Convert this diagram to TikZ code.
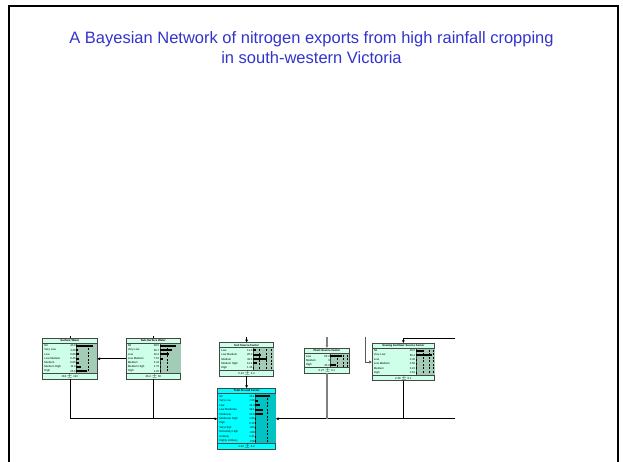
\documentclass[tikz,border=0pt]{standalone}
\usepackage{fontspec}
\setmainfont{Liberation Sans}
\usetikzlibrary{arrows.meta}

\definecolor{titleblue}{RGB}{51,51,204}
\definecolor{nodemint}{RGB}{206,255,232}
\definecolor{barmint}{RGB}{162,204,182}
\definecolor{nodecyan}{RGB}{0,255,255}
\definecolor{barcyan}{RGB}{0,196,196}
\definecolor{edgegray}{RGB}{70,70,70}

\tikzset{
  bn w/.store in=\bnW, bn h/.store in=\bnH, bn frac/.store in=\bnF, bn scale/.store in=\bnS,
  bn fill/.store in=\bnFill, bn bar/.store in=\bnBar, bn grid/.store in=\bnGrid,
  bn fill=nodemint, bn bar=barmint, bn grid={0.5}, bn frac=0.62, bn scale=0.4,
  netbox/.style={draw=edgegray, line width=0.9pt, fill=\bnFill, inner sep=0pt, outer sep=0pt},
  tinytext/.style={font=\fontsize{2.8}{3}\selectfont, inner sep=0pt},
  link/.style={line width=0.7pt},
}

% belief node: [keys]{name}{centre}{rows}{title}{mean}
\newcommand{\beliefnode}[6][]{%
  \begin{scope}[#1]
    \node[netbox, minimum width=\bnW pt, minimum height=\bnH pt] (#2) at (#3) {};
    \begin{scope}[shift={(#2.north west)}]
      \pgfmathsetmacro\bx{\bnF*\bnW}
      \pgfmathsetmacro\fy{\bnH-5.5}
      \foreach \s/\v [count=\i] in {#4} {\xdef\bnN{\i}}
      \pgfmathsetmacro\rh{(\bnH-11.5)/\bnN}
      \fill[\bnBar] (\bx,5) rectangle (\bnW,\fy);
      \draw[edgegray, line width=0.4pt] (\bx,5) -- (\bx,\fy);
      \foreach \g in \bnGrid
        \draw[line width=0.4pt, dash pattern=on 2pt off 1.5pt] ({\bx+\g*(\bnW-\bx)},6.5) -- ({\bx+\g*(\bnW-\bx)},\fy-1);
      \foreach \s/\v [count=\i] in {#4} {
        \pgfmathsetmacro\ry{5.5+(\i-0.5)*\rh}
        \node[tinytext, anchor=west] at (1.5,\ry) {\s};
        \node[tinytext, anchor=east] at (\bx-0.4,\ry) {\v};
        \pgfmathsetmacro\bl{min(\v*\bnS,\bnW-\bx-0.6)}
        \fill (\bx,\ry-1) rectangle ++(\bl,2);
      }
      \draw[edgegray, line width=0.8pt] (0,5) -- (\bnW,5);
      \node[tinytext, font=\fontsize{2.8}{3}\selectfont\bfseries] at (\bnW/2,2.6) {#5};
      \draw[edgegray, line width=1pt] (0,\fy) -- (\bnW,\fy);
      \node[tinytext] at (\bnW/2,{(\fy+\bnH)/2}) {#6};
    \end{scope}
  \end{scope}}

\begin{document}
\begin{tikzpicture}[x=1pt, y=-1pt, >={Latex[length=3pt,width=3pt]}]
  \useasboundingbox (0,0) rectangle (623,461);
  \draw[line width=1.6pt] (9,470) -- (9,6) -- (618,6) -- (618,470);

  \node[text=titleblue, font=\fontsize{16.5}{19.5}\selectfont, align=center] (title) at (311.5,47.5)
    {A Bayesian Network of nitrogen exports from high rainfall cropping\\in south-western Victoria};

  % network nodes
  \beliefnode[bn w=54.3, bn h=41, bn scale=0.42, bn grid={0.55}]{sw}{69.85,358.8}
    {Nil/40.0, Very Low/3.26, Low/6.66, Low Medium/6.45, Medium/6.66, Medium High/11.3, High/25.6}
    {Surface Water}{163 $\pm$ 210}
  \beliefnode[bn w=54.3, bn h=41, bn scale=0.43, bn grid={0.35}]{ssw}{153.35,358.8}
    {Nil/38.5, Very Low/28.7, Low/20.2, Low Medium/7.51, Medium/2.44, Medium High/1.75, High/1.25}
    {Sub-Surface Water}{26.4 $\pm$ 60}
  \beliefnode[bn w=54, bn h=33.3, bn scale=0.29, bn grid={0.3,0.65,0.9}]{soil}{246.6,359.35}
    {Low/11.0, Low Medium/26.2, Medium/49.0, Medium High/12.4, High/1.36}
    {Soil Source Factor}{5.44 $\pm$ 2.4}
  \beliefnode[bn w=45.1, bn h=25, bn frac=0.58, bn scale=0.17, bn grid={0.35,0.65,0.9}]{pl}{326.85,360.8}
    {Low/65.0, Medium/0, High/35.0}
    {Plant Source Factor}{0.27 $\pm$ 0.1}
  \beliefnode[bn w=62.3, bn h=37.4, bn frac=0.7, bn scale=0.24, bn grid={0.4,0.7,0.92}]{sf}{403.35,362}
    {Nil/30.0, Very Low/66.4, Low/0.46, Low Medium/0.50, Medium/0.21, High/0.61}
    {Sowing Fertiliser Source Factor}{2.26 $\pm$ 6.1}
  \beliefnode[bn w=58, bn h=61, bn frac=0.65, bn scale=0.39, bn grid={0.6},
      bn fill=nodecyan, bn bar=barcyan]{tot}{246.6,418.8}
    {Nil/38.1, Very Low/7.20, Low/12.4, Low Moderate/19.1, Moderate/20.6, Moderate High/1.80,
     High/0.15, Very High/.060, Extremely High/.028, Unlikely/0.21, Highly Unlikely/.079}
    {Total N Load Factor}{3.63 $\pm$ 6.2}

  % cut ends of links
  \coordinate (topcut) at (0,336.5);
  \coordinate (eastcut) at (455.3,418.8);
  \coordinate (sfnorth) at (455.3,338.3);
  \coordinate (sfwest) at (365.4,336.5);

  % links
  \draw[link,->] (ssw.west) -- (sw.east);
  \draw[link,->] (sw.south) |- (tot.west);
  \draw[link] (ssw.south) -- (ssw.south |- tot.west);
  \draw[link,->] (eastcut) -- (tot.east);
  \draw[link, gray, line width=1.3pt] (pl.south) -- (pl.south |- tot.east);
  \draw[link] (sf.south) -- (sf.south |- tot.east);
  \draw[link,->] (soil.south) -- (tot.north);
  \draw[link,->] (soil.north |- topcut) -- (soil.north);
  \draw[gray, line width=1.3pt, ->] (pl.north |- topcut) -- (pl.north);
  \draw[link, gray!70!black,->] (sfwest) |- (sf.west);
  \draw[link,->] (sfnorth) -| (sf.north);
  \draw[link] (sw.north) -- ++(0,-2);
  \draw[link] (ssw.north) -- ++(0,-2);
\end{tikzpicture}
\end{document}
